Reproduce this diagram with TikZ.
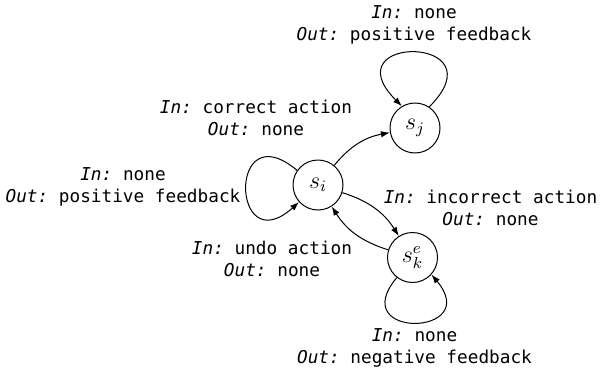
\documentclass[tikz,border=0pt]{standalone}
\usepackage{fontspec}
\setmonofont{DejaVu Sans Mono}[ItalicFont={DejaVu Sans Mono Oblique}]
\usetikzlibrary{arrows.meta}
\begin{document}
\begin{tikzpicture}[x=0.5pt, y=0.5pt, line width=0.5pt,
        >={Latex[length=4.5pt,width=3.2pt]},
        state/.style={draw, circle, minimum size=25pt, inner sep=0pt, font=\large},
        note/.style={align=center, font=\ttfamily\fontsize{8.86}{11}\selectfont}]
        \useasboundingbox (0,0) rectangle (600,371);

        % Define the states
        \node[state] (si) at (318,186) {$s_i$};
        \node[state] (sj) at (415,243) {$s_j$};
        \node[state] (sk) at (412.5,113.5) {$s^e_k$};

        % Define the labels
        \node[note] (Lj) at (414,346) {\textit{In:} none\\\textit{Out:} positive feedback};
        \node[note] (Li) at (123,184) {\textit{In:} none\\\textit{Out:} positive feedback};
        \node[note] (Lc) at (256,253) {\textit{In:} correct action\\\textit{Out:} none};
        \node[note] (Lw) at (490.5,163.5) {\textit{In:} incorrect action\\\textit{Out:} none};
        \node[note] (Lu) at (272,112) {\textit{In:} undo action\\\textit{Out:} none};
        \node[note] (Lk) at (414.5,23.5) {\textit{In:} none\\\textit{Out:} negative feedback};

        % Draw transitions
        \draw[->] (si) to[bend left=20] (sj);
        \draw[->] (si) to[bend left=20] (sk);
        \draw[->] (sk) to[bend left=20] (si);

        % Draw self loops
        \draw[->] (sj.56) to[out=45, in=135, distance=51pt] (sj.121);
        \draw[->] (si.145) to[out=140, in=222, distance=45.7pt] (si.222);
        \draw[->] (sk.232) to[out=230, in=310, distance=40.5pt] (sk.318);
    \end{tikzpicture}
\end{document}
